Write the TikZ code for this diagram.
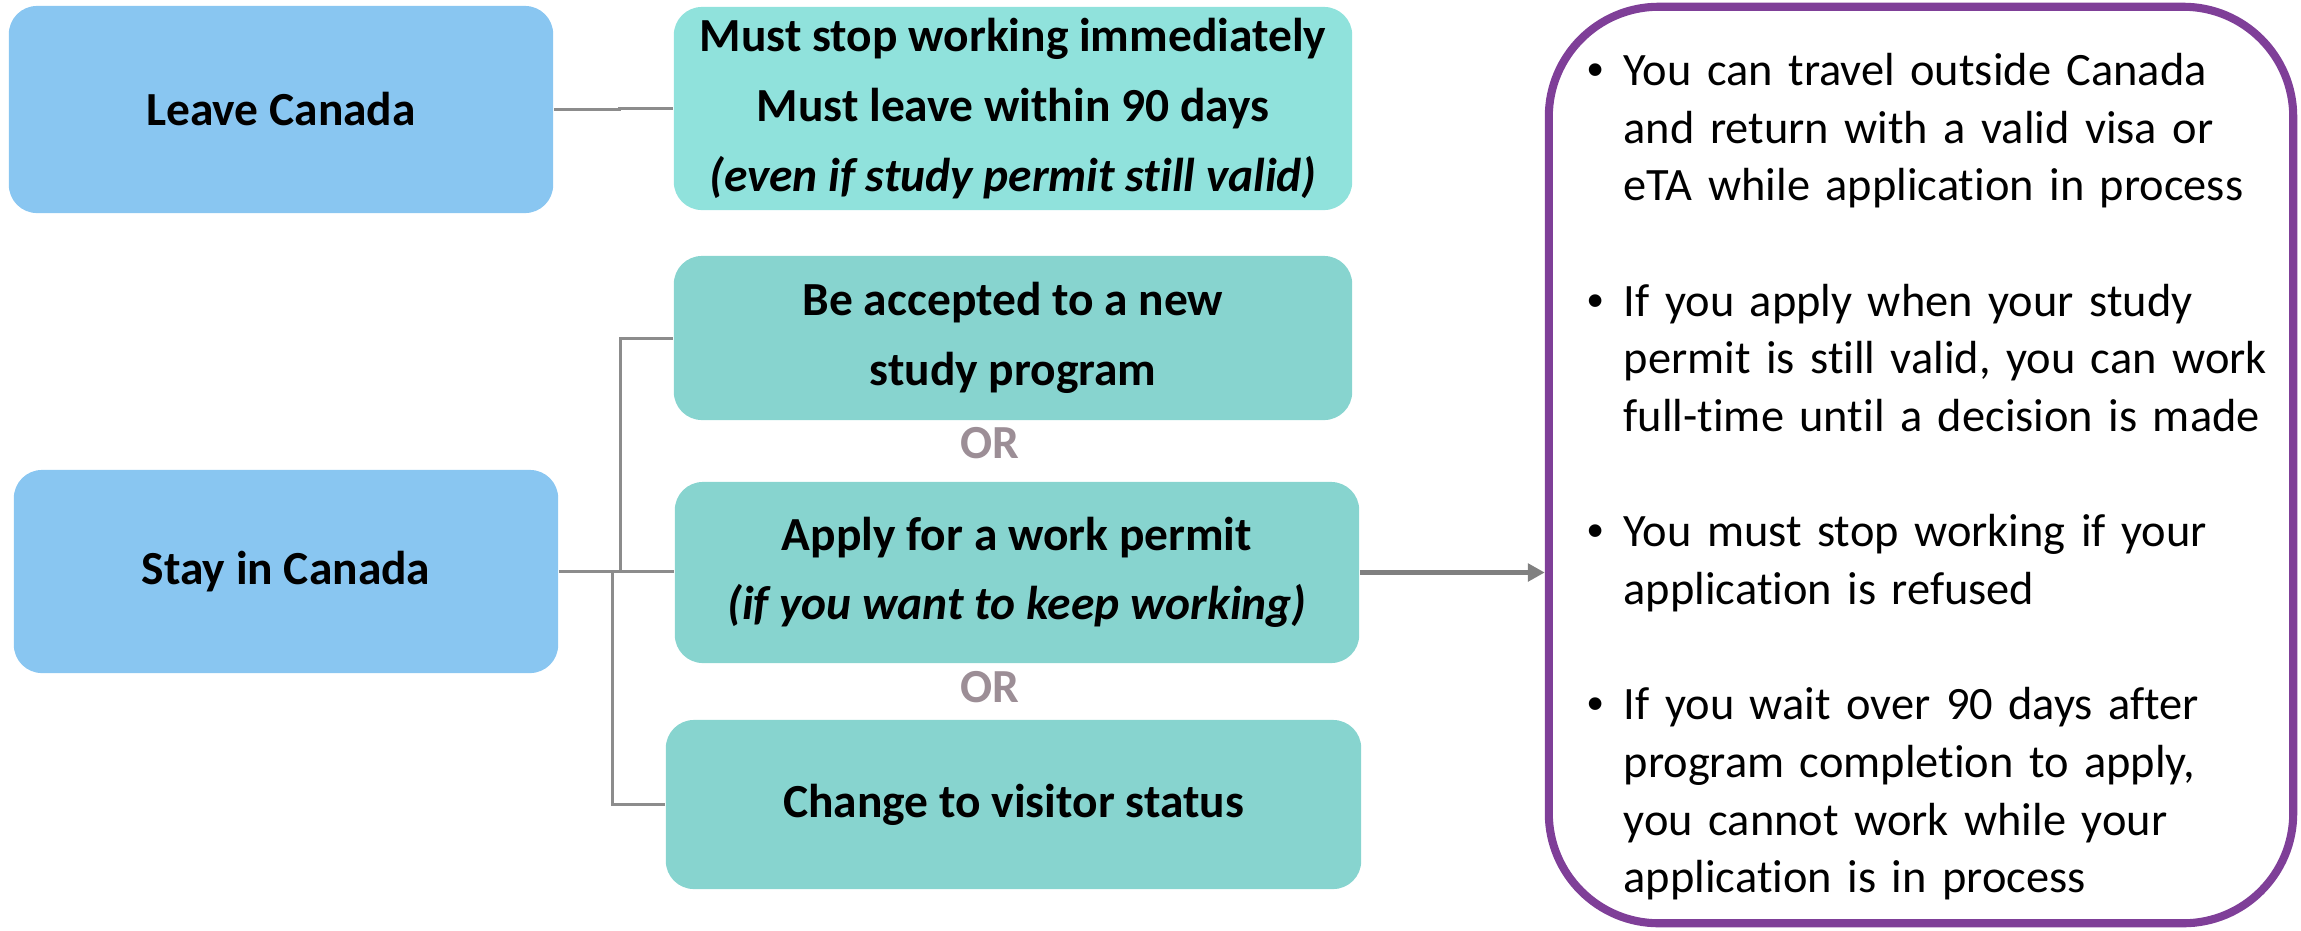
\documentclass[tikz,border=0pt]{standalone}
\usepackage{fontspec}
\setmainfont{Carlito}[Ligatures=NoCommon]
\newfontfamily\bulletfont{Liberation Sans}
\usepackage{tikz}
\usetikzlibrary{calc,arrows.meta}
\definecolor{leaveblue}{HTML}{89C6F1}
\definecolor{mustcyan}{HTML}{90E2DC}
\definecolor{stepteal}{HTML}{87D4CF}
\definecolor{linegray}{HTML}{8C8C8C}
\definecolor{arrowgray}{HTML}{808080}
\definecolor{factpurple}{HTML}{7F3F98}
\definecolor{orgray}{HTML}{9C8E96}
\newcommand{\factlabel}[1]{#1\hfil}
\newenvironment{factlist}{\begin{list}{{\bulletfont\textbullet}}{%
    \setlength{\leftmargin}{0.36cm}\setlength{\labelwidth}{0.36cm}%
    \setlength{\labelsep}{0pt}\setlength{\itemsep}{16.4pt}\setlength{\parsep}{0pt}%
    \setlength{\topsep}{0pt}\setlength{\partopsep}{0pt}\let\makelabel\factlabel}}%
  {\end{list}}

\begin{document}
\begin{tikzpicture}[x=0.01cm,y=-0.01cm,
    box/.style={rounded corners=8pt,inner sep=0pt,align=center,font=\fontsize{13.5pt}{19.8pt}\selectfont\bfseries},
    conn/.style={line width=0.85pt,color=linegray},
    ortext/.style={text=orgray,font=\fontsize{13.5pt}{16pt}\selectfont\bfseries}]
  \useasboundingbox (0,0) rectangle (2301,930);
  \node[box,fill=leaveblue,minimum width=5.44cm,minimum height=2.07cm](leave)at(281,109.5){Leave Canada};
  \node[box,fill=leaveblue,minimum width=5.44cm,minimum height=2.03cm](stay)at(286,571.5){Stay in Canada};
  \node[box,fill=mustcyan,minimum width=6.78cm,minimum height=2.03cm](must)at(1013,108.5){Must stop working immediately\\Must leave within 90 days\\\textit{(even if study permit still valid)}};
  \node[box,fill=stepteal,minimum width=6.78cm,minimum height=1.64cm](study)at(1013,338){Be accepted to a new\\study program};
  \node[box,fill=stepteal,minimum width=6.84cm,minimum height=1.81cm](apply)at(1017,572.5){Apply for a work permit\\\textit{(if you want to keep working)}};
  \node[box,fill=stepteal,minimum width=6.95cm,minimum height=1.69cm](visitor)at(1013.5,804.5){Change to visitor status};
  \node[ortext](or1)at(990,443){OR};
  \node[ortext](or2)at(990,687){OR};
  \node[draw=factpurple,line width=2.3pt,rounded corners=1.1cm,minimum width=7.44cm,minimum height=9.16cm,inner sep=0pt](facts)at(1921,465){};
  \node[anchor=north west,inner sep=0pt,text width=7cm,font=\fontsize{13.2pt}{16.4pt}\selectfont](facttext)at(1587,27){%
    \begin{factlist}
      \item You can travel outside Canada\newline and return with a valid visa or\newline eTA while application in process
      \item If you apply when your study\newline permit is still valid, you can work\newline full-time until a decision is made
      \item You must stop working if your\newline application is refused
      \item If you wait over 90 days after\newline program completion to apply,\newline you cannot work while your\newline application is in process
    \end{factlist}};
  \coordinate (jleave) at (619,109.5);
  \coordinate (jup) at (620,571.5);
  \coordinate (jdown) at (612,571.5);
  \draw[conn](leave.east)--(jleave)|-(must.west);
  \draw[conn](stay.east)--(stay.east-|apply.west);
  \draw[conn](jup)|-(study.west);
  \draw[conn](jdown)|-(visitor.west);
  \draw[-{Triangle[length=0.17cm,width=0.175cm]},line width=1.42pt,arrowgray](apply.east)--(apply.east-|facts.west);
\end{tikzpicture}
\end{document}
